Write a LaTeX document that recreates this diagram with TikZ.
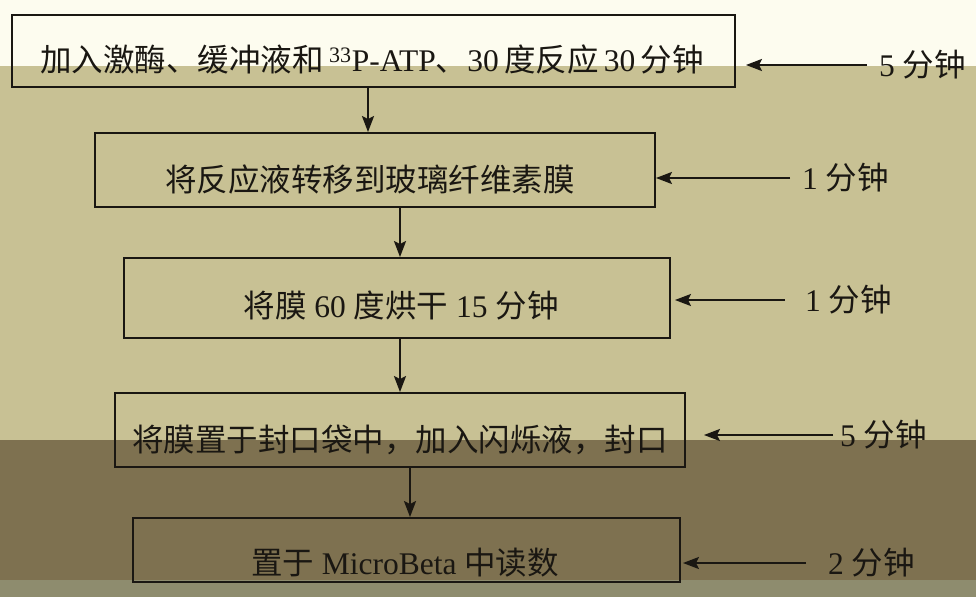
\documentclass[tikz,border=0pt]{standalone}
\usepackage{fontspec}
\setmainfont{Liberation Serif}
\newfontfamily\cjk{Noto Sans CJK SC}
\newcommand\zh[1]{{\cjk #1}}
\usetikzlibrary{arrows.meta}
\definecolor{bandA}{HTML}{FDFCEF}
\definecolor{bandB}{HTML}{C8C194}
\definecolor{bandC}{HTML}{7E7150}
\definecolor{bandD}{HTML}{8E8C6E}
\definecolor{ink}{HTML}{1A1712}
\tikzset{
  stepbox/.style={draw=ink, line width=1.9pt, rectangle, inner sep=0pt},
  steptext/.style={text=ink, font=\fontsize{31.5}{34}\selectfont, inner sep=0pt, anchor=center},
  timelabel/.style={text=ink, font=\fontsize{31.5}{34}\selectfont, inner sep=2pt, anchor=west},
  flow/.style={draw=ink, line width=2.2pt, -{Stealth[length=16pt,width=12pt,inset=3pt]}},
}
\begin{document}
\begin{tikzpicture}[x=1pt,y=-1pt]
\useasboundingbox (0,0) rectangle (976,597);
% scan background bands
\fill[bandA] (0,0) rectangle (976,66);
\fill[bandB] (0,66) rectangle (976,440);
\fill[bandC] (0,440) rectangle (976,580);
\fill[bandD] (0,580) rectangle (976,597);
% boxes
\node[stepbox, minimum width=723pt, minimum height=72pt] (b1) at (373.5,51) {};
\node[stepbox, minimum width=560pt, minimum height=74pt] (b2) at (375,170) {};
\node[stepbox, minimum width=546pt, minimum height=80pt] (b3) at (397,298) {};
\node[stepbox, minimum width=570pt, minimum height=74pt] (b4) at (400,430) {};
\node[stepbox, minimum width=547pt, minimum height=64pt] (b5) at (406.5,550) {};
% texts
\node[steptext] (t1) at (372,60) {\zh{加入激酶、缓冲液和}\,\textsuperscript{33}P-ATP\zh{、}30\,\zh{度反应}\,30\,\zh{分钟}};
\node[steptext] (t2) at (370,180) {\zh{将反应液转移到玻璃纤维素膜}};
\node[steptext] (t3) at (401,305) {\zh{将膜} 60 \zh{度烘干} 15 \zh{分钟}};
\node[steptext] (t4) at (400,440) {\zh{将膜置于封口袋中，加入闪烁液，封口}};
\node[steptext] (t5) at (405,563) {\zh{置于} MicroBeta \zh{中读数}};
% time labels
\node[timelabel] (l1) at (877,65) {5 \zh{分钟}};
\node[timelabel] (l2) at (800,178) {1 \zh{分钟}};
\node[timelabel] (l3) at (803,300) {1 \zh{分钟}};
\node[timelabel] (l4) at (838,435) {5 \zh{分钟}};
\node[timelabel] (l5) at (826,563) {2 \zh{分钟}};
% side arrows
\draw[flow] ([xshift=-10pt]l1.west) -- ([xshift=10pt]b1.east |- l1.west);
\draw[flow] ([xshift=-10pt]l2.west) -- (b2.east |- l2.west);
\draw[flow] ([xshift=-18pt]l3.west) -- ([xshift=4pt]b3.east |- l3.west);
\draw[flow] ([xshift=-5pt]l4.west) -- ([xshift=18pt]b4.east |- l4.west);
\draw[flow] ([xshift=-20pt]l5.west) -- ([xshift=2pt]b5.east |- l5.west);
% down arrows
\draw[flow] (b1.south -| 368,0) -- (b2.north -| 368,0);
\draw[flow] (b2.south -| 400,0) -- (b3.north -| 400,0);
\draw[flow] (b3.south -| 400,0) -- (b4.north -| 400,0);
\draw[flow] (b4.south -| 410,0) -- (b5.north -| 410,0);
\end{tikzpicture}
\end{document}
